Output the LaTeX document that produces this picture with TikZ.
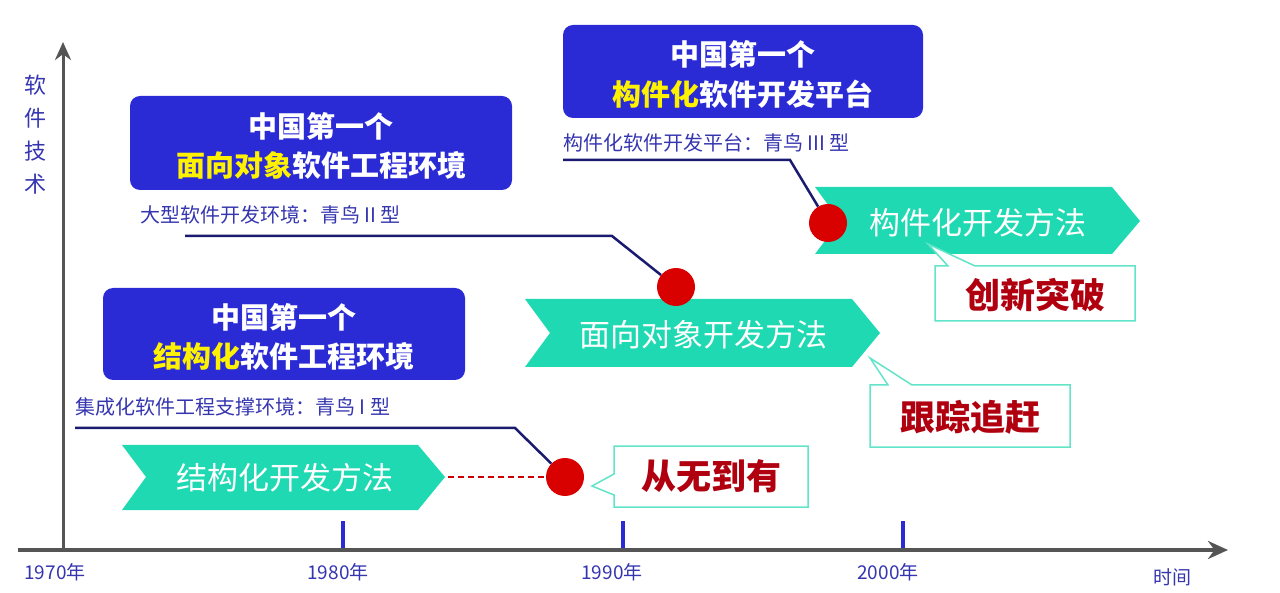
\documentclass[tikz,border=0pt]{standalone}
\usepackage{fontspec}
\setmainfont{Noto Sans CJK SC}
\usetikzlibrary{arrows.meta}
\definecolor{boxblue}{HTML}{2B2BD6}
\definecolor{navy}{HTML}{1A1A70}
\definecolor{teal1}{HTML}{1FD9B2}
\definecolor{darkred}{HTML}{B00010}
\definecolor{lblue}{HTML}{3535B0}
\definecolor{axisgray}{HTML}{555555}
\tikzset{
  bluebox/.style={fill=boxblue,rounded corners=10pt,draw=none},
  boxtxt/.style={text=white,font=\fontsize{29}{30}\selectfont\bfseries},
  sub/.style={text=lblue,font=\fontsize{20}{22}\selectfont,anchor=west,inner sep=0},
  lead/.style={draw=navy,line width=2.5pt},
  dot/.style={circle,fill=red!85!black,minimum size=38pt,inner sep=0},
  chev/.style={fill=teal1,draw=none},
  chevtxt/.style={text=white,font=\fontsize{31}{32}\selectfont},
  callout/.style={fill=white,draw=teal1!70,line width=1.5pt},
  calltxt/.style={text=darkred,font=\fontsize{35}{36}\selectfont\bfseries},
  yr/.style={text=lblue,font=\fontsize{19}{20}\selectfont},
  tick/.style={draw=boxblue,line width=4pt}
}
\begin{document}
\begin{tikzpicture}[x=1pt,y=-1pt]
\useasboundingbox (0,0) rectangle (1280,593);
% axes
\coordinate (yb) at (63,552); \coordinate (yt) at (63,42);
\coordinate (xl) at (18,550); \coordinate (xr) at (1228,550);
\draw[axisgray,line width=3pt,-{Stealth[length=18pt,width=16pt]}] (yb) -- (yt);
\draw[axisgray,line width=4pt,-{Stealth[length=20pt,width=18pt]}] (xl) -- (xr);
\foreach \x in {343,623,903} \draw[tick] (\x,521) -- (\x,548);
\node[yr] (y70) at (55,572) {1970年};
\node[yr] (y80) at (338,572) {1980年};
\node[yr] (y90) at (612,572) {1990年};
\node[yr] (y00) at (888,572) {2000年};
\node[yr] (tm) at (1172,577) {时间};
\node[text=lblue,font=\fontsize{22}{33}\selectfont,align=center] (ylab) at (35,135) {软\\件\\技\\术};
% blue boxes
\draw[bluebox] (130,96) rectangle (512,190);
\node[boxtxt] (b1a) at (321,126) {中国第一个};
\node[boxtxt] (b1b) at (321,165) {\textcolor{yellow}{面向对象}软件工程环境};
\draw[bluebox] (563,25) rectangle (923,118);
\node[boxtxt] (b2a) at (743,54) {中国第一个};
\node[boxtxt] (b2b) at (743,94) {\textcolor{yellow}{构件化}软件开发平台};
\draw[bluebox] (103,288) rectangle (465,380);
\node[boxtxt] (b3a) at (284,317) {中国第一个};
\node[boxtxt] (b3b) at (284,356) {\textcolor{yellow}{结构化}软件工程环境};
% subtitles
\node[sub] (s1) at (140,215) {大型软件开发环境：青鸟 II 型};
\node[sub] (s2) at (563,143) {构件化软件开发平台：青鸟 III 型};
\node[sub] (s3) at (75,407) {集成化软件工程支撑环境：青鸟 I 型};
% chevrons
\fill[chev] (122,445) -- (418,445) -- (445,477) -- (418,510) -- (122,510) -- (146,477) -- cycle;
\node[chevtxt] (c1) at (285,478) {结构化开发方法};
\fill[chev] (525,299) -- (852,299) -- (880,333) -- (852,367) -- (525,367) -- (550,333) -- cycle;
\node[chevtxt] (c2) at (703,335) {面向对象开发方法};
\fill[chev] (815,187) -- (1112,187) -- (1140,221) -- (1112,254) -- (815,254) -- (840,221) -- cycle;
\node[chevtxt] (c3) at (978,223) {构件化开发方法};
% dashed
\coordinate (dl) at (448,477);
\draw[red!80!black,dash pattern=on 6pt off 4pt,line width=2.5pt] (dl) -- (548,477);
% callouts
\draw[callout] (614,446) -- (808,446) -- (808,507) -- (614,507) -- (614,495) -- (592,486) -- (614,474) -- cycle;
\node[calltxt] (k1) at (711,476) {从无到有};
\draw[callout] (870,385) -- (888,385) -- (870,358) -- (912,385) -- (1070,385) -- (1070,447) -- (870,447) -- cycle;
\node[calltxt] (k2) at (970,417) {跟踪追赶};
\draw[callout] (935,266) -- (948,266) -- (928,244) -- (975,266) -- (1135,266) -- (1135,321) -- (935,321) -- cycle;
\node[calltxt] (k3) at (1035,295) {创新突破};
% dots and leads
\node[dot] (d1) at (565,477) {};
\node[dot] (d2) at (676,287) {};
\node[dot] (d3) at (828,223) {};
\coordinate (l1) at (185,236); \coordinate (l1b) at (612,236);
\draw[lead] (l1) -- (l1b) -- (d2);
\coordinate (l2) at (563,160); \coordinate (l2b) at (790,160);
\draw[lead] (l2) -- (l2b) -- (d3);
\coordinate (l3) at (75,428); \coordinate (l3b) at (515,428);
\draw[lead] (l3) -- (l3b) -- (d1);
\end{tikzpicture}
\end{document}
